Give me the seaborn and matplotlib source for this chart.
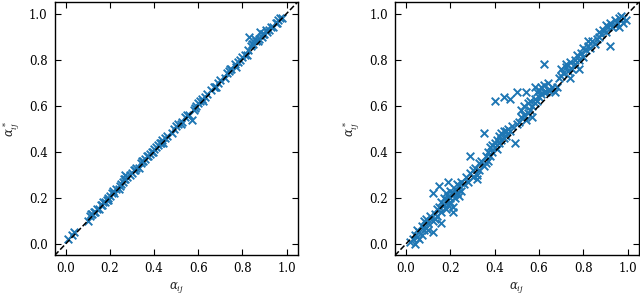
import numpy as np
import pandas as pd
import seaborn as sns
import matplotlib
matplotlib.use('Agg')
import matplotlib.pyplot as plt

# left panel: alpha_ij vs estimated alpha*_ij (close fit)
alpha_left = [0.01, 0.03, 0.04, 0.10, 0.11, 0.12, 0.13, 0.14, 0.15, 0.16,
              0.17, 0.18, 0.19, 0.19, 0.20, 0.21, 0.22, 0.23, 0.24, 0.25,
              0.26, 0.27, 0.27, 0.28, 0.29, 0.30, 0.31, 0.32, 0.33, 0.34,
              0.35, 0.36, 0.37, 0.38, 0.39, 0.40, 0.41, 0.42, 0.43, 0.44,
              0.45, 0.46, 0.48, 0.49, 0.50, 0.51, 0.52, 0.54, 0.55, 0.56,
              0.57, 0.58, 0.59, 0.60, 0.61, 0.62, 0.63, 0.64, 0.66, 0.67,
              0.68, 0.69, 0.70, 0.72, 0.73, 0.74, 0.75, 0.77, 0.78, 0.79,
              0.80, 0.81, 0.82, 0.83, 0.84, 0.85, 0.86, 0.87, 0.88, 0.89,
              0.90, 0.91, 0.92, 0.93, 0.94, 0.95, 0.96, 0.97, 0.98,
              0.115, 0.135, 0.165, 0.185, 0.215, 0.245, 0.265, 0.315, 0.345,
              0.375, 0.395, 0.425, 0.435, 0.525, 0.585, 0.615, 0.675, 0.745,
              0.765, 0.825, 0.845, 0.855, 0.875, 0.895, 0.905, 0.955]
alpha_star_left = [0.02, 0.04, 0.05, 0.10, 0.12, 0.13, 0.14, 0.15, 0.15, 0.17,
                   0.18, 0.18, 0.20, 0.19, 0.21, 0.22, 0.22, 0.24, 0.24, 0.26,
                   0.27, 0.30, 0.28, 0.29, 0.30, 0.31, 0.32, 0.33, 0.33, 0.35,
                   0.36, 0.37, 0.38, 0.39, 0.40, 0.41, 0.42, 0.43, 0.44, 0.44,
                   0.46, 0.47, 0.48, 0.50, 0.51, 0.52, 0.52, 0.55, 0.56, 0.56,
                   0.54, 0.58, 0.60, 0.61, 0.62, 0.62, 0.64, 0.65, 0.67, 0.68,
                   0.68, 0.70, 0.71, 0.72, 0.74, 0.75, 0.76, 0.77, 0.79, 0.80,
                   0.81, 0.82, 0.82, 0.90, 0.86, 0.87, 0.88, 0.88, 0.92, 0.90,
                   0.91, 0.92, 0.93, 0.94, 0.94, 0.96, 0.97, 0.98, 0.98,
                   0.13, 0.14, 0.17, 0.19, 0.23, 0.25, 0.28, 0.32, 0.36,
                   0.38, 0.40, 0.44, 0.45, 0.53, 0.59, 0.63, 0.68, 0.76,
                   0.78, 0.84, 0.87, 0.89, 0.89, 0.91, 0.93, 0.96]

# right panel: alpha_ij vs estimated alpha*_ij (noisier fit)
alpha_right = [0.02, 0.03, 0.04, 0.04, 0.05, 0.05, 0.06, 0.06, 0.07, 0.07,
               0.08, 0.08, 0.09, 0.09, 0.10, 0.10,
               0.11, 0.12, 0.12, 0.12, 0.13, 0.13, 0.14, 0.14, 0.15, 0.15,
               0.16, 0.16, 0.16, 0.17, 0.17, 0.18, 0.18, 0.18, 0.19, 0.19,
               0.19, 0.20, 0.20, 0.20, 0.21, 0.21, 0.21, 0.22, 0.22, 0.23,
               0.23, 0.24, 0.24, 0.25, 0.25,
               0.26, 0.27, 0.28, 0.29, 0.29, 0.30, 0.30, 0.31, 0.32, 0.32,
               0.33, 0.33, 0.34, 0.35, 0.35, 0.36, 0.36, 0.37, 0.37, 0.38,
               0.38, 0.39, 0.39, 0.40, 0.40, 0.41, 0.41, 0.42, 0.42, 0.43,
               0.43, 0.44, 0.44, 0.45, 0.45,
               0.46, 0.47, 0.48, 0.49, 0.50, 0.51, 0.52, 0.52, 0.53, 0.53,
               0.54, 0.55, 0.55, 0.56, 0.56, 0.57, 0.57, 0.58, 0.58, 0.59,
               0.59, 0.60, 0.60, 0.61, 0.61, 0.62, 0.62, 0.63, 0.64, 0.64,
               0.40, 0.44, 0.47, 0.50, 0.54, 0.58, 0.62,
               0.65, 0.66, 0.67, 0.68, 0.69, 0.70, 0.70, 0.71, 0.72, 0.72,
               0.73, 0.74, 0.74, 0.75, 0.76, 0.76, 0.77, 0.78, 0.78, 0.79,
               0.80, 0.80, 0.81, 0.82, 0.82, 0.83, 0.84, 0.85, 0.86, 0.87,
               0.87, 0.88, 0.89, 0.90, 0.90, 0.91, 0.92, 0.92, 0.93, 0.94,
               0.94, 0.95, 0.96, 0.96, 0.97, 0.97, 0.98, 0.98, 0.99]
alpha_star_right = [0.01, 0.02, 0.00, 0.04, 0.03, 0.06, 0.02, 0.05, 0.04, 0.08,
                    0.06, 0.10, 0.07, 0.11, 0.09, 0.06,
                    0.12, 0.05, 0.10, 0.22, 0.13, 0.11, 0.15, 0.12, 0.16, 0.25,
                    0.09, 0.14, 0.18, 0.17, 0.20, 0.15, 0.19, 0.22, 0.27, 0.17,
                    0.21, 0.18, 0.20, 0.23, 0.16, 0.22, 0.14, 0.24, 0.20, 0.26,
                    0.22, 0.25, 0.21, 0.27, 0.23,
                    0.26, 0.29, 0.27, 0.38, 0.31, 0.29, 0.32, 0.33, 0.30, 0.28,
                    0.35, 0.32, 0.36, 0.48, 0.34, 0.38, 0.35, 0.40, 0.36, 0.42,
                    0.38, 0.43, 0.40, 0.44, 0.42, 0.45, 0.41, 0.47, 0.44, 0.48,
                    0.45, 0.49, 0.46, 0.49, 0.47,
                    0.50, 0.49, 0.51, 0.44, 0.52, 0.53, 0.55, 0.58, 0.56, 0.60,
                    0.54, 0.57, 0.61, 0.58, 0.62, 0.55, 0.60, 0.63, 0.61, 0.62,
                    0.66, 0.64, 0.67, 0.65, 0.68, 0.66, 0.69, 0.66, 0.67, 0.70,
                    0.62, 0.64, 0.63, 0.66, 0.66, 0.68, 0.78,
                    0.67, 0.68, 0.66, 0.68, 0.72, 0.73, 0.76, 0.74, 0.77, 0.78,
                    0.75, 0.79, 0.72, 0.76, 0.78, 0.80, 0.82, 0.80, 0.76, 0.83,
                    0.81, 0.85, 0.84, 0.86, 0.88, 0.85, 0.88, 0.87, 0.89, 0.90,
                    0.92, 0.91, 0.93, 0.92, 0.95, 0.94, 0.86, 0.96, 0.94, 0.97,
                    0.95, 0.96, 0.98, 0.94, 0.97, 0.99, 0.96, 0.98, 0.97]

sns.set_style('ticks')
plt.rcParams['font.family'] = ['DejaVu Serif']
plt.rcParams['mathtext.fontset'] = 'dejavuserif'
plt.rcParams['font.size'] = 8

fig = plt.figure(figsize=(6.4, 2.96), dpi=100)
ax1 = fig.add_axes([0.0853, 0.137, 0.3797, 0.856])
ax2 = fig.add_axes([0.617, 0.137, 0.3813, 0.856])

panels = [(ax1, alpha_left, alpha_star_left), (ax2, alpha_right, alpha_star_right)]
for ax, xs, ys in panels:
    df = pd.DataFrame({'a': xs, 'b': ys})
    sns.scatterplot(data=df, x='a', y='b', ax=ax, marker='x', s=30,
                    color='#1f77b4', linewidth=1.4, zorder=2)
    ax.plot([-0.05, 1.05], [-0.05, 1.05], color='black', ls='--', lw=1.1, zorder=3)
    ax.set_xlim(-0.05, 1.05)
    ax.set_ylim(-0.05, 1.05)
    ticks = [0.0, 0.2, 0.4, 0.6, 0.8, 1.0]
    ax.set_xticks(ticks)
    ax.set_yticks(ticks)
    ax.tick_params(direction='in', top=True, right=True, length=4, width=0.8,
                   labelsize=8.5, colors='black', pad=5)
    for sp in ax.spines.values():
        sp.set_linewidth(1.0)
        sp.set_color('black')
    ax.set_xlabel(r'$\alpha_{ij}$', fontsize=8.5, labelpad=3)
    ax.set_ylabel(r'$\alpha^*_{ij}$', fontsize=8.5, labelpad=5)

fig.savefig('out.png', dpi=100)
